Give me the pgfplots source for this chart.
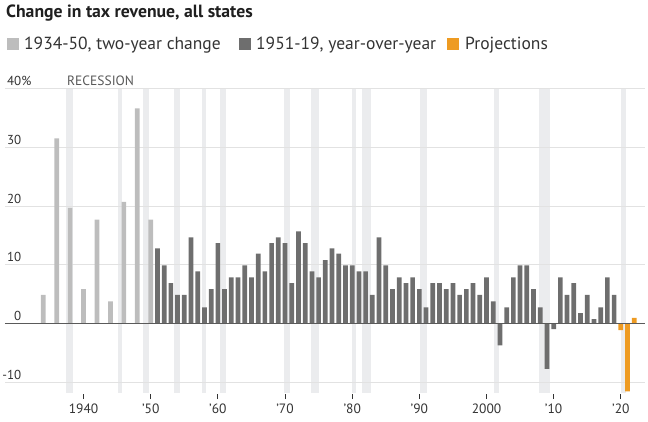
\documentclass[border=0pt]{standalone}
\usepackage{fontspec}
\setmainfont{PT Sans}
\usepackage{pgfplots}
\pgfplotsset{compat=1.18}
\definecolor{lightbar}{HTML}{BDBDBD}
\definecolor{darkbar}{HTML}{6E6E6E}
\definecolor{proj}{HTML}{EE9B22}
\definecolor{recess}{HTML}{EBECEE}
\definecolor{gridc}{HTML}{E2E2E2}
\definecolor{zeroc}{HTML}{5A5A5A}
\definecolor{txt}{HTML}{333333}
\begin{document}
\begin{tikzpicture}
\path[use as bounding box] (0pt,0pt) rectangle (648pt,422pt);
\node[anchor=base west, inner sep=0pt, font=\fontsize{17.7}{20}\selectfont\bfseries, text=black!88] at (6pt,404pt) {Change in tax revenue, all states};
\fill[lightbar] (7pt,372pt) rectangle (19pt,384pt);
\node[anchor=base west, inner sep=0pt, font=\fontsize{17.5}{20}\selectfont, text=txt] at (24pt,372pt) {1934-50, two-year change};
\fill[darkbar] (239pt,372pt) rectangle (251pt,384pt);
\node[anchor=base west, inner sep=0pt, font=\fontsize{17.5}{20}\selectfont, text=txt] at (256pt,372pt) {1951-19, year-over-year};
\fill[proj] (447pt,372pt) rectangle (459pt,384pt);
\node[anchor=base west, inner sep=0pt, font=\fontsize{17.5}{20}\selectfont, text=txt] at (465pt,372pt) {Projections};
\node[anchor=base west, inner sep=0pt, font=\fontsize{13.5}{15}\selectfont, text=black!65] at (67pt,336pt) {RECESSION};
\begin{axis}[
  at={(5pt,29.3pt)}, anchor=south west,
  scale only axis, width=640pt, height=304.2pt,
  xmin=1928.3, xmax=2023.6, ymin=-11.73, ymax=40,
  axis line style={draw=none},
  ytick={-10,0,10,20,30,40},
  yticklabels={-10,0,10,20,30,40\rlap{\%}},
  ytick style={draw=none},
  yticklabel style={anchor=base east, inner sep=0pt, xshift=21.5pt, yshift=3pt, font=\fontsize{13}{15}\selectfont, text=txt},
  xtick={1940,1950,1960,1970,1980,1990,2000,2010,2020},
  xticklabels={1940,’50,’60,’70,’80,’90,2000,’10,’20},
  xtick pos=left, ytick pos=left,
  tick align=outside, major tick length=5pt,
  xtick style={draw=txt, line width=0.8pt, yshift=-1.5pt},
  xticklabel style={font=\fontsize{13.5}{15}\selectfont, text=txt, yshift=-3pt},
]
% recession bands
\addplot[fill=recess, draw=none] coordinates {(1937.4,-11.73) (1937.4,40) (1938.4,40) (1938.4,-11.73)} -- cycle;
\addplot[fill=recess, draw=none] coordinates {(1945.1,-11.73) (1945.1,40) (1945.7,40) (1945.7,-11.73)} -- cycle;
\addplot[fill=recess, draw=none] coordinates {(1948.8,-11.73) (1948.8,40) (1949.7,40) (1949.7,-11.73)} -- cycle;
\addplot[fill=recess, draw=none] coordinates {(1953.4,-11.73) (1953.4,40) (1954.3,40) (1954.3,-11.73)} -- cycle;
\addplot[fill=recess, draw=none] coordinates {(1957.6,-11.73) (1957.6,40) (1958.2,40) (1958.2,-11.73)} -- cycle;
\addplot[fill=recess, draw=none] coordinates {(1960.3,-11.73) (1960.3,40) (1961.2,40) (1961.2,-11.73)} -- cycle;
\addplot[fill=recess, draw=none] coordinates {(1969.9,-11.73) (1969.9,40) (1970.8,40) (1970.8,-11.73)} -- cycle;
\addplot[fill=recess, draw=none] coordinates {(1973.8,-11.73) (1973.8,40) (1975.0,40) (1975.0,-11.73)} -- cycle;
\addplot[fill=recess, draw=none] coordinates {(1979.9,-11.73) (1979.9,40) (1980.5,40) (1980.5,-11.73)} -- cycle;
\addplot[fill=recess, draw=none] coordinates {(1981.4,-11.73) (1981.4,40) (1982.8,40) (1982.8,-11.73)} -- cycle;
\addplot[fill=recess, draw=none] coordinates {(1990.1,-11.73) (1990.1,40) (1991.1,40) (1991.1,-11.73)} -- cycle;
\addplot[fill=recess, draw=none] coordinates {(2001.1,-11.73) (2001.1,40) (2001.9,40) (2001.9,-11.73)} -- cycle;
\addplot[fill=recess, draw=none] coordinates {(2007.8,-11.73) (2007.8,40) (2009.5,40) (2009.5,-11.73)} -- cycle;
\addplot[fill=recess, draw=none] coordinates {(2020.0,-11.73) (2020.0,40) (2020.8,40) (2020.8,-11.73)} -- cycle;
% grid lines
\addplot[draw=gridc, line width=0.9pt] coordinates {(1928.3,-10) (2023.6,-10)};
\addplot[draw=gridc, line width=0.9pt] coordinates {(1928.3,10) (2023.6,10)};
\addplot[draw=gridc, line width=0.9pt] coordinates {(1928.3,20) (2023.6,20)};
\addplot[draw=gridc, line width=0.9pt] coordinates {(1928.3,30) (2023.6,30)};
\addplot[draw=gridc, line width=0.9pt] coordinates {(1928.3,40) (2023.6,40)};
% two-year change 1934-50
\addplot[ybar, bar width=0.7, bar shift=0pt, fill=lightbar, draw=none] coordinates {
(1934,4.9) (1936,31.5) (1938,19.7) (1940,5.9) (1942,17.7) (1944,3.8) (1946,20.7) (1948,36.6) (1950,17.7)};
% year-over-year 1951-2019
\addplot[ybar, bar width=0.7, bar shift=0pt, fill=darkbar, draw=none] coordinates {
(1951,12.8) (1952,9.9) (1953,6.9) (1954,4.9) (1955,4.9) (1956,14.7) (1957,8.9) (1958,2.8) (1959,5.9) (1960,13.7)
(1961,5.9) (1962,7.9) (1963,7.9) (1964,9.9) (1965,7.9) (1966,11.9) (1967,8.9) (1968,13.7) (1969,14.7) (1970,13.7)
(1971,6.9) (1972,15.7) (1973,13.7) (1974,8.9) (1975,7.9) (1976,10.8) (1977,12.8) (1978,11.9) (1979,9.9) (1980,9.9)
(1981,8.9) (1982,8.9) (1983,4.9) (1984,14.7) (1985,9.9) (1986,5.9) (1987,7.9) (1988,6.9) (1989,7.9) (1990,5.9)
(1991,2.8) (1992,6.9) (1993,6.9) (1994,5.9) (1995,6.9) (1996,4.9) (1997,5.9) (1998,6.9) (1999,4.9) (2000,7.9)
(2001,3.8) (2002,-3.7) (2003,2.8) (2004,7.9) (2005,9.9) (2006,9.9) (2007,5.9) (2008,2.8) (2009,-7.7) (2010,-0.9)
(2011,7.9) (2012,4.9) (2013,6.9) (2014,1.8) (2015,4.9) (2016,0.8) (2017,2.8) (2018,7.9) (2019,4.9)};
% projections
\addplot[ybar, bar width=0.7, bar shift=0pt, fill=proj, draw=none] coordinates {
(2020,-1.1) (2021,-11.5) (2022,1.0)};
% zero line
\addplot[draw=zeroc, line width=1.3pt] coordinates {(1928.3,0) (2023.6,0)};
\end{axis}
\end{tikzpicture}
\end{document}
